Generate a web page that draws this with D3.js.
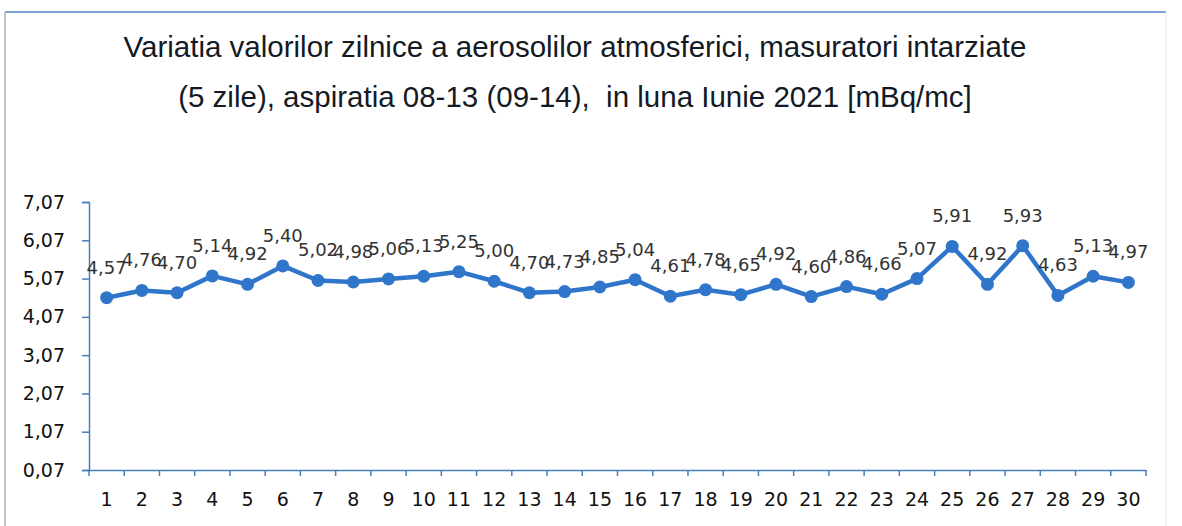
<!DOCTYPE html>
<html>
<head>
<meta charset="utf-8">
<script src="https://cdn.jsdelivr.net/npm/d3@7"></script>
<style>
  body { margin: 0; background: #fff; }
</style>
</head>
<body>
<div id="chart"></div>
<script>
  const days = d3.range(1, 31).map(String);
  const values = [4.57, 4.76, 4.70, 5.14, 4.92, 5.40, 5.02, 4.98, 5.06, 5.13,
                  5.25, 5.00, 4.70, 4.73, 4.85, 5.04, 4.61, 4.78, 4.65, 4.92,
                  4.60, 4.86, 4.66, 5.07, 5.91, 4.92, 5.93, 4.63, 5.13, 4.97];
  const yTicks = [0.07, 1.07, 2.07, 3.07, 4.07, 5.07, 6.07, 7.07];
  const titleLines = [
    "Variatia valorilor zilnice a aerosolilor atmosferici, masuratori intarziate",
    "(5 zile), aspiratia 08-13 (09-14),  in luna Iunie 2021 [mBq/mc]"
  ];

  const data = days.map((d, i) => ({ day: d, value: values[i] }));

  const width = 1182, height = 526;
  const margin = { top: 202, right: 36, bottom: 56, left: 89 };

  const svg = d3.select("#chart")
    .append("svg")
    .attr("width", width)
    .attr("height", height);

  // frame of the chart area
  svg.append("line")
    .attr("x1", 5).attr("x2", 1166).attr("y1", 12).attr("y2", 12)
    .attr("stroke", "#7fa6d8").attr("stroke-width", 2);
  svg.append("line")
    .attr("x1", 5).attr("x2", 5).attr("y1", 12).attr("y2", height)
    .attr("stroke", "#a9b4c2").attr("stroke-width", 1.5);
  svg.append("line")
    .attr("x1", 1166).attr("x2", 1166).attr("y1", 12).attr("y2", height)
    .attr("stroke", "#e4e8ee").attr("stroke-width", 1);

  // title
  svg.selectAll(".title")
    .data(titleLines)
    .enter()
    .append("text")
    .attr("class", "title")
    .attr("x", 575)
    .attr("y", (d, i) => 57 + i * 50)
    .attr("text-anchor", "middle")
    .style("white-space", "pre")
    .style("font-family", "'Liberation Sans Narrow', 'Liberation Sans', sans-serif")
    .style("font-size", "29.5px")
    .style("fill", "#141a24")
    .text(d => d);

  const xScale = d3.scaleBand()
    .domain(days)
    .range([margin.left, width - margin.right]);

  const yScale = d3.scaleLinear()
    .domain([0.07, 7.07])
    .range([height - margin.bottom, margin.top]);

  const fmt = v => d3.format(".2f")(v).replace(".", ",");
  const axisColor = "#4a7ebb";

  // y axis
  const yAxis = svg.append("g")
    .attr("transform", `translate(${margin.left}, 0)`)
    .call(d3.axisLeft(yScale).tickValues(yTicks).tickFormat(fmt).tickSize(7).tickPadding(17));
  yAxis.select(".domain").attr("stroke", axisColor).attr("stroke-width", 1.5);
  yAxis.selectAll(".tick line").attr("stroke", axisColor).attr("stroke-width", 1.5);
  yAxis.selectAll("text")
    .style("font-family", "'DejaVu Sans', sans-serif")
    .style("font-size", "19px")
    .style("fill", "#111");

  // x axis (labels at centres, ticks at category boundaries)
  const xAxis = svg.append("g")
    .attr("transform", `translate(0, ${height - margin.bottom})`)
    .call(d3.axisBottom(xScale).tickSize(0).tickPadding(23).tickSizeOuter(0));
  xAxis.select(".domain").attr("stroke", axisColor).attr("stroke-width", 1.5);
  xAxis.selectAll("text")
    .style("font-family", "'DejaVu Sans', sans-serif")
    .style("font-size", "19px")
    .style("fill", "#111");

  const bounds = days.map(d => xScale(d)).concat([xScale.range()[1]]);
  xAxis.selectAll(".btick")
    .data(bounds)
    .enter()
    .append("line")
    .attr("class", "btick")
    .attr("x1", d => d).attr("x2", d => d)
    .attr("y1", 0).attr("y2", 6)
    .attr("stroke", axisColor)
    .attr("stroke-width", 1.5);

  // line and markers
  const cx = d => xScale(d.day) + xScale.bandwidth() / 2;
  const lineColor = "#2f76cb";

  svg.append("path")
    .datum(data)
    .attr("fill", "none")
    .attr("stroke", lineColor)
    .attr("stroke-width", 4.5)
    .attr("stroke-linejoin", "round")
    .attr("d", d3.line().x(cx).y(d => yScale(d.value)));

  svg.selectAll(".pt")
    .data(data)
    .enter()
    .append("circle")
    .attr("class", "pt")
    .attr("cx", cx)
    .attr("cy", d => yScale(d.value))
    .attr("r", 6.5)
    .attr("fill", lineColor);

  // data labels
  svg.selectAll(".lbl")
    .data(data)
    .enter()
    .append("text")
    .attr("class", "lbl")
    .attr("x", cx)
    .attr("y", d => yScale(d.value) - 24)
    .attr("text-anchor", "middle")
    .style("font-family", "'DejaVu Sans', sans-serif")
    .style("font-size", "18px")
    .style("fill", "#333")
    .text(d => fmt(d.value));
</script>
</body>
</html>
